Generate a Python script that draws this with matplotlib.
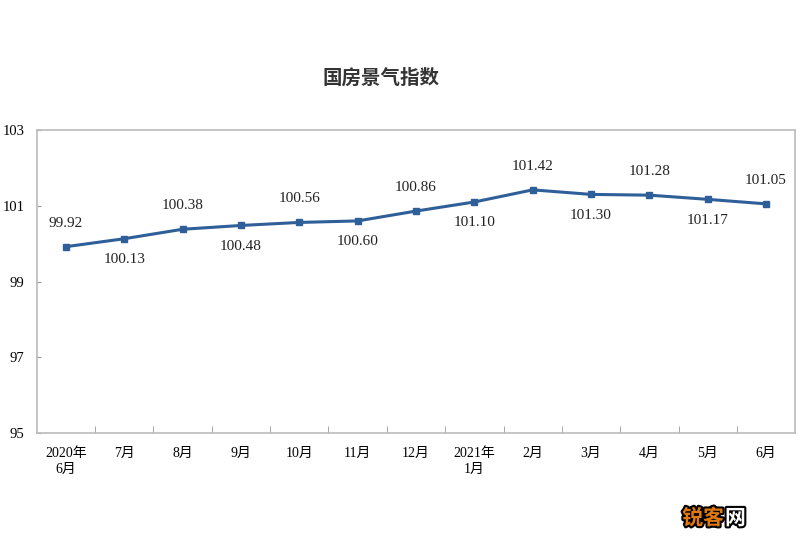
import matplotlib
matplotlib.use("Agg")
import matplotlib.pyplot as plt
import matplotlib.patheffects as pe
import numpy as np

plt.rcParams['font.family'] = ['Liberation Serif', 'Noto Sans CJK SC', 'DejaVu Sans']

months = ['2020年\n6月', '7月', '8月', '9月', '10月', '11月', '12月',
          '2021年\n1月', '2月', '3月', '4月', '5月', '6月']
index_vals = [99.92, 100.13, 100.38, 100.48, 100.56, 100.60, 100.86,
              101.10, 101.42, 101.30, 101.28, 101.17, 101.05]
label_above = [True, False, True, False, True, False, True,
               False, True, False, True, False, True]
y_ticks = [95, 97, 99, 101, 103]

fig = plt.figure(figsize=(8, 5.5), dpi=100)
ax = fig.add_axes([0.046, 0.2127, 0.948, 0.5509])

x = np.arange(len(months))
ax.plot(x, index_vals, color='#2F5F98', linewidth=2.2, marker='s',
        markersize=4, markerfacecolor='#2F5F98', markeredgecolor='#2F5F98')

for xi, v, up in zip(x, index_vals, label_above):
    ax.annotate(f'{v:.2f}', (xi, v), xytext=(0, 17 if up else -15),
                textcoords='offset points', ha='center', va='center',
                fontsize=11, color='#222222')

ax.set_xlim(-0.5, len(months) - 0.5)
ax.set_ylim(95, 103)
ax.set_yticks(y_ticks)
ax.set_yticklabels([str(t) for t in y_ticks], fontsize=10.5)
ax.set_xticks(x)
ax.set_xticklabels(months, fontsize=10, linespacing=1.35)
ax.set_xticks(x[:-1] + 0.5, minor=True)
ax.tick_params(axis='x', which='major', length=0, pad=10)
ax.tick_params(axis='x', which='minor', length=5, direction='in', color='#999999')
ax.tick_params(axis='y', length=3, direction='in', color='#999999', pad=9)
for s in ax.spines.values():
    s.set_color('#BBBBBB')
    s.set_linewidth(1.2)

fig.text(381 / 800, 1 - 78 / 550, '国房景气指数', ha='center', va='center',
         fontsize=14, fontweight='bold', family=['Noto Sans CJK SC'],
         color='#333333')

# watermark: orange first two characters, white last one, black outline
stroke = [pe.withStroke(linewidth=3, foreground='black')]
fig.text(724 / 800, 1 - 518 / 550, '锐客', ha='right', va='center',
         fontsize=15, fontweight='bold', family=['Noto Sans CJK SC'],
         color='#E07A10', path_effects=stroke)
fig.text(725 / 800, 1 - 518 / 550, '网', ha='left', va='center',
         fontsize=15, fontweight='bold', family=['Noto Sans CJK SC'],
         color='white', path_effects=stroke)

fig.savefig('out.png', dpi=100)
